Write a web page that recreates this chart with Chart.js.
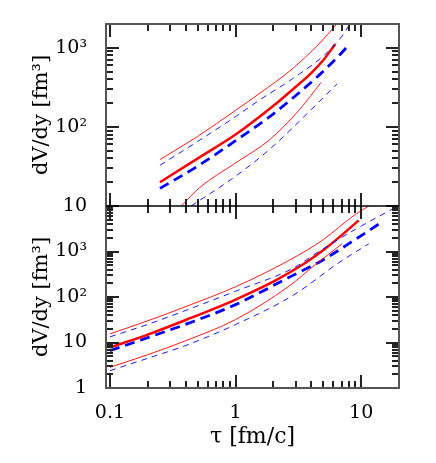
<!DOCTYPE html>
<html>
<head>
<meta charset="utf-8">
<script src="https://cdn.jsdelivr.net/npm/chart.js@4.4.1/dist/chart.umd.min.js"></script>
<style>
  html, body { margin: 0; padding: 0; background: #fff; }
  #wrap { width: 436px; height: 463px; }
</style>
</head>
<body>
<div id="wrap"><canvas id="chart" width="436" height="463"></canvas></div>
<script>
// tau [fm/c] -> dV/dy [fm^3]
// upper panel
var topRedTau = [0.25, 0.5, 1, 2, 3, 4, 5, 6.2];
var topRedV = [20, 40, 80, 185, 320, 480, 700, 1110];
var topBlueTau = [0.25, 0.5, 1, 1.85, 2.92, 4.6, 6.85, 8];
var topBlueV = [16.7, 32, 67, 133, 239, 448, 836, 1100];
var topRedHiTau = [0.25, 0.5, 1, 1.54, 2.83, 4.6, 6.4];
var topRedHiV = [38.6, 76, 162, 263, 542, 1117, 2000];
var topBlueHiTau = [0.25, 0.5, 1, 1.54, 2.83, 5.2, 7.26, 8.1];
var topBlueHiV = [32.7, 65.6, 135, 217, 405, 836, 1500, 2000];
var topRedLoTau = [0.37, 0.515, 1, 1.85, 3.2, 4.8];
var topRedLoV = [10, 17, 35, 68, 163, 365];
var topBlueLoTau = [0.443, 1, 1.85, 3.84, 6.43];
var topBlueLoV = [10, 23.8, 51.5, 155, 351];

// lower panel
var botRedTau = [0.1, 0.2, 0.41, 1, 2.03, 3.61, 4.89, 6.63, 9.56];
var botRedV = [7.8, 14.9, 32, 88, 223, 567, 1020, 2014, 4840];
var botBlueTau = [0.1, 0.2, 0.41, 1, 2.66, 4.89, 9, 14];
var botBlueV = [6.6, 12.8, 25.7, 68, 270, 637, 1849, 4100];
var botRedHiTau = [0.1, 0.2, 0.41, 1, 2.66, 4.89, 9, 11.5];
var botRedHiV = [15.5, 30, 63, 168, 637, 1757, 6560, 10000];
var botBlueHiTau = [0.1, 0.2, 0.41, 1, 2.92, 4.44, 9, 19];
var botBlueHiV = [13.3, 25, 52, 134, 440, 940, 3070, 9500];
var botRedLoTau = [0.1, 0.2, 0.41, 1, 2.66, 4.33, 7.05];
var botRedLoV = [2.85, 5.4, 11.2, 32, 173, 520, 1480];
var botBlueLoTau = [0.1, 0.2, 0.41, 1, 2.92, 6.63, 11.5];
var botBlueLoV = [2.4, 4.5, 8.8, 24.8, 112, 567, 1480];

// axes
var xTicks = [0.1, 1, 10];
var xTickLabels = ['0.1', '1', '10'];
var xMinor = [0.2, 0.3, 0.4, 0.5, 0.6, 0.7, 0.8, 0.9, 2, 3, 4, 5, 6, 7, 8, 9, 20];
var yTopTicks = [10, 100, 1000];
var yTopLabels = ['10', '10²', '10³'];
var yBotTicks = [1, 10, 100, 1000];
var yBotLabels = ['1', '10', '10²', '10³'];

var serif = "'DejaVu Serif', 'Liberation Serif', serif";

function pts(t, v) {
  return t.map(function (x, i) { return { x: x, y: v[i] }; });
}

function line(t, v, axis, color, width, dash) {
  return {
    data: pts(t, v),
    yAxisID: axis,
    borderColor: color,
    borderWidth: width,
    borderDash: dash,
    pointRadius: 0,
    fill: false,
    cubicInterpolationMode: 'monotone'
  };
}

function minors(lo, hi) {
  var out = [];
  for (var d = lo; d < hi; d *= 10) {
    for (var k = 2; k <= 9; k++) out.push(k * d);
  }
  return out;
}

// inward ticks on all four sides of both panels, plus the frame
var frame = {
  id: 'frame',
  afterDraw: function (chart) {
    var ctx = chart.ctx;
    var xs = chart.scales.x, yT = chart.scales.yTop, yB = chart.scales.yBot;
    var area = chart.chartArea;
    var L = area.left, R = area.right;
    var y0 = area.top, y2 = area.bottom, y1 = yT.getPixelForValue(10);
    var path = new Path2D();
    function seg(a, b, c, d) {
      path.moveTo(a, b);
      path.lineTo(c, d);
    }
    function xt(v, len) {
      var px = Math.round(xs.getPixelForValue(v));
      seg(px, y0, px, y0 + len);
      seg(px, y1 - len, px, y1 + len);
      seg(px, y2, px, y2 - len);
    }
    function yt(s, v, len) {
      var py = Math.round(s.getPixelForValue(v));
      seg(L, py, L + len, py);
      seg(R, py, R - len, py);
    }
    xTicks.forEach(function (v) { xt(v, 13); });
    xMinor.forEach(function (v) { xt(v, 7); });
    yTopTicks.forEach(function (v) { yt(yT, v, 13); });
    minors(10, 1000).concat([2000]).forEach(function (v) { yt(yT, v, 7); });
    yBotTicks.forEach(function (v) { yt(yB, v, 13); });
    minors(1, 10000).forEach(function (v) { yt(yB, v, 7); });

    ctx.save();
    ctx.setLineDash([]);
    ctx.strokeStyle = '#222';
    ctx.lineWidth = 2;
    ctx.stroke(path);
    ctx.strokeStyle = '#555';
    ctx.lineWidth = 2;
    ctx.strokeRect(L, y0, R - L, y2 - y0);
    ctx.strokeStyle = '#000';
    ctx.lineWidth = 1.5;
    ctx.beginPath();
    ctx.moveTo(L, y1);
    ctx.lineTo(R, y1);
    ctx.stroke();
    ctx.restore();
  }
};

function yAxis(min, max, ticks, labels) {
  return {
    type: 'logarithmic',
    position: 'left',
    stack: 'panels',
    stackWeight: 1,
    min: min,
    max: max,
    grid: { display: false },
    border: { display: false },
    afterBuildTicks: function (s) { s.ticks = ticks.map(function (v) { return { value: v }; }); },
    afterFit: function (s) { s.width = 106; },
    ticks: {
      autoSkip: false,
      padding: 11,
      color: '#000',
      font: { family: serif, size: 19 },
      callback: function (v, i) { return labels[i]; }
    },
    title: {
      display: true,
      text: 'dV/dy [fm³]',
      color: '#000',
      font: { family: serif, size: 21 },
      padding: { top: 29, bottom: 0 }
    }
  };
}

new Chart(document.getElementById('chart'), {
  type: 'line',
  data: {
    datasets: [
      line(topRedHiTau, topRedHiV, 'yTop', '#ff0000', 0.9, []),
      line(topRedLoTau, topRedLoV, 'yTop', '#ff0000', 0.9, []),
      line(topBlueHiTau, topBlueHiV, 'yTop', '#0000ff', 0.9, [6, 5]),
      line(topBlueLoTau, topBlueLoV, 'yTop', '#0000ff', 0.9, [6, 5]),
      line(topRedTau, topRedV, 'yTop', '#ff0000', 2.5, []),
      line(topBlueTau, topBlueV, 'yTop', '#0000ff', 2.8, [10, 6]),
      line(botRedHiTau, botRedHiV, 'yBot', '#ff0000', 0.9, []),
      line(botRedLoTau, botRedLoV, 'yBot', '#ff0000', 0.9, []),
      line(botBlueHiTau, botBlueHiV, 'yBot', '#0000ff', 0.9, [6, 5]),
      line(botBlueLoTau, botBlueLoV, 'yBot', '#0000ff', 0.9, [6, 5]),
      line(botRedTau, botRedV, 'yBot', '#ff0000', 2.5, []),
      line(botBlueTau, botBlueV, 'yBot', '#0000ff', 2.8, [10, 6])
    ]
  },
  options: {
    responsive: false,
    animation: false,
    layout: { padding: { left: 0, top: 24, right: 37, bottom: 0 } },
    plugins: { legend: { display: false }, tooltip: { enabled: false } },
    scales: {
      x: {
        type: 'logarithmic',
        position: 'bottom',
        min: 0.093,
        max: 20,
        grid: { display: false },
        border: { display: false },
        afterBuildTicks: function (s) { s.ticks = xTicks.map(function (v) { return { value: v }; }); },
        afterFit: function (s) { s.height = 75; },
        ticks: {
          autoSkip: false,
          maxRotation: 0,
          padding: 6,
          color: '#000',
          font: { family: serif, size: 19 },
          callback: function (v, i) { return xTickLabels[i]; }
        },
        title: {
          display: true,
          text: 'τ [fm/c]',
          color: '#000',
          font: { family: serif, size: 22 },
          padding: { top: 0, bottom: 13 }
        }
      },
      yBot: yAxis(1, 10000, yBotTicks, yBotLabels),
      yTop: yAxis(10, 2000, yTopTicks, yTopLabels)
    }
  },
  plugins: [frame]
});
</script>
</body>
</html>
